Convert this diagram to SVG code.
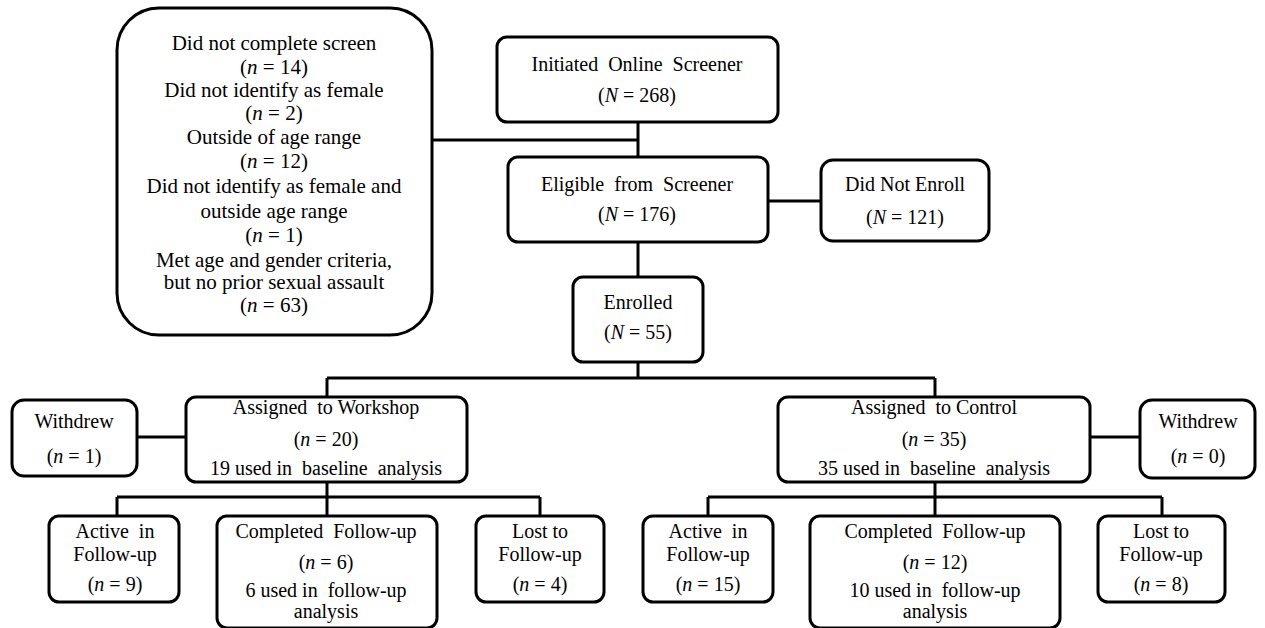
<svg xmlns="http://www.w3.org/2000/svg" width="1265" height="628" viewBox="0 0 1265 628">
<style>
.n{fill:#fff;stroke:#000;stroke-width:3}
.c path{fill:none;stroke:#000;stroke-width:3}
text{font-family:"Liberation Serif","Times New Roman",serif;font-size:20px;fill:#000;text-anchor:middle}
.big text{font-size:21px}
.i{font-style:italic}
</style>
<rect width="1265" height="628" fill="#fff"/>
<g class="c" id="connectors">
<path d="M432 140H638M638 122V157M768 201H821M638 242V277M638 362V378M327 378H935M327 378V397M935 378V397M137 437H185M1090 437H1140M327 482V497M117 497H540M117 497V516M327 497V516M540 497V516M935 482V497M708 497H1162M708 497V516M935 497V516M1162 497V516"/>
</g>
<g id="excluded" class="big">
<rect class="n" x="117" y="8" width="315" height="327" rx="42"/>
<text x="274" y="50">Did not complete screen</text>
<text x="274" y="74">(<tspan class="i">n</tspan> = 14)</text>
<text x="274" y="97">Did not identify as female</text>
<text x="274" y="120">(<tspan class="i">n</tspan> = 2)</text>
<text x="274" y="144">Outside of age range</text>
<text x="274" y="168">(<tspan class="i">n</tspan> = 12)</text>
<text x="274" y="193">Did not identify as female and</text>
<text x="274" y="218">outside age range</text>
<text x="274" y="242">(<tspan class="i">n</tspan> = 1)</text>
<text x="274" y="267">Met age and gender criteria,</text>
<text x="274" y="289">but no prior sexual assault</text>
<text x="274" y="312">(<tspan class="i">n</tspan> = 63)</text>
</g>
<g id="initiated">
<rect class="n" x="497" y="37" width="281" height="85" rx="10"/>
<text x="637" y="71">Initiated&#160; Online&#160; Screener</text>
<text x="637" y="102">(<tspan class="i">N</tspan> = 268)</text>
</g>
<g id="eligible">
<rect class="n" x="508" y="157" width="260" height="85" rx="10"/>
<text x="637" y="191">Eligible&#160; from&#160; Screener</text>
<text x="637" y="221">(<tspan class="i">N</tspan> = 176)</text>
</g>
<g id="notenroll">
<rect class="n" x="821" y="160" width="168" height="81" rx="12"/>
<text x="905" y="191">Did Not Enroll</text>
<text x="905" y="224">(<tspan class="i">N</tspan> = 121)</text>
</g>
<g id="enrolled">
<rect class="n" x="573" y="277" width="130" height="85" rx="10"/>
<text x="638" y="309">Enrolled</text>
<text x="638" y="339">(<tspan class="i">N</tspan> = 55)</text>
</g>
<g id="withdrew1">
<rect class="n" x="12" y="400" width="125" height="76" rx="12"/>
<text x="74" y="428">Withdrew</text>
<text x="74" y="463">(<tspan class="i">n</tspan> = 1)</text>
</g>
<g id="workshop">
<rect class="n" x="186" y="397" width="281" height="85" rx="10"/>
<text x="326" y="414">Assigned&#160; to Workshop</text>
<text x="326" y="446">(<tspan class="i">n</tspan> = 20)</text>
<text x="326" y="475">19 used in&#160; baseline&#160; analysis</text>
</g>
<g id="control">
<rect class="n" x="778" y="397" width="312" height="85" rx="10"/>
<text x="934" y="414">Assigned&#160; to Control</text>
<text x="934" y="446">(<tspan class="i">n</tspan> = 35)</text>
<text x="934" y="475">35 used in&#160; baseline&#160; analysis</text>
</g>
<g id="withdrew2">
<rect class="n" x="1140" y="400" width="115" height="78" rx="12"/>
<text x="1198" y="428">Withdrew</text>
<text x="1198" y="463">(<tspan class="i">n</tspan> = 0)</text>
</g>
<g id="w_active">
<rect class="n" x="49" y="516" width="130" height="86" rx="10"/>
<text x="115" y="538">Active&#160; in</text>
<text x="115" y="561">Follow-up</text>
<text x="115" y="591">(<tspan class="i">n</tspan> = 9)</text>
</g>
<g id="w_completed">
<rect class="n" x="217" y="516" width="220" height="112" rx="10"/>
<text x="326" y="538">Completed&#160; Follow-up</text>
<text x="326" y="569">(<tspan class="i">n</tspan> = 6)</text>
<text x="326" y="597">6 used in&#160; follow-up</text>
<text x="326" y="618">analysis</text>
</g>
<g id="w_lost">
<rect class="n" x="476" y="516" width="128" height="86" rx="10"/>
<text x="540" y="538">Lost to</text>
<text x="540" y="561">Follow-up</text>
<text x="540" y="591">(<tspan class="i">n</tspan> = 4)</text>
</g>
<g id="c_active">
<rect class="n" x="643" y="516" width="130" height="86" rx="10"/>
<text x="708" y="538">Active&#160; in</text>
<text x="708" y="561">Follow-up</text>
<text x="708" y="591">(<tspan class="i">n</tspan> = 15)</text>
</g>
<g id="c_completed">
<rect class="n" x="810" y="516" width="250" height="112" rx="10"/>
<text x="935" y="538">Completed&#160; Follow-up</text>
<text x="935" y="569">(<tspan class="i">n</tspan> = 12)</text>
<text x="935" y="597">10 used in&#160; follow-up</text>
<text x="935" y="618">analysis</text>
</g>
<g id="c_lost">
<rect class="n" x="1098" y="516" width="127" height="86" rx="10"/>
<text x="1161" y="538">Lost to</text>
<text x="1161" y="561">Follow-up</text>
<text x="1161" y="591">(<tspan class="i">n</tspan> = 8)</text>
</g>
</svg>
